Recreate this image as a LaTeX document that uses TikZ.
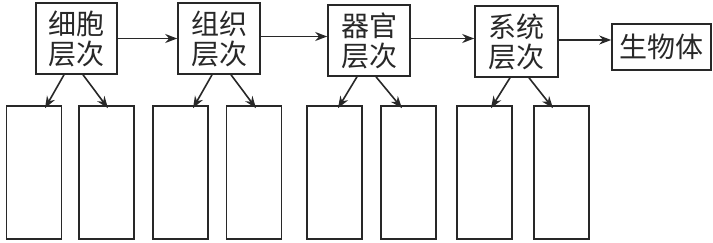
\documentclass[tikz,border=0pt]{standalone}
\usepackage{fontspec}
\newfontfamily\cjk{Noto Sans CJK SC}
\usetikzlibrary{arrows.meta}
\definecolor{ink}{RGB}{40,40,40}
\begin{document}
\begin{tikzpicture}[x=1pt,y=-1pt,
  lvl/.style={draw=ink,line width=1.6pt,inner sep=0pt,minimum width=82pt,minimum height=71pt,
    align=center,font=\cjk\fontsize{28}{30}\selectfont,text=ink},
  blank/.style={draw=ink,line width=1.6pt,inner sep=0pt,minimum width=55pt,minimum height=133pt},
  arr/.style={draw=ink,line width=1.6pt,-{Stealth[length=12pt,width=9pt]}}]
\useasboundingbox (0,0) rectangle (713,243);
\node[lvl,minimum width=81pt] (b1) at (76.5,38.5) {细胞\\层次};
\node[lvl] (b2) at (219,38.5) {组织\\层次};
\node[lvl] (b3) at (369,40.5) {器官\\层次};
\node[lvl,minimum width=83pt] (b4) at (516.5,41.5) {系统\\层次};
\node[lvl,minimum width=99pt,minimum height=46pt] (b5) at (661.5,47) {生物体};
\node[blank] (r1) at (34,172.5) {};
\node[blank] (r2) at (106.5,172.5) {};
\node[blank] (r3) at (180.5,172.5) {};
\node[blank] (r4) at (254,172.5) {};
\node[blank] (r5) at (334.5,172.5) {};
\node[blank] (r6) at (408.5,172.5) {};
\node[blank] (r7) at (484.5,172.5) {};
\node[blank] (r8) at (561.5,172.5) {};
\draw[arr] (b1.east) -- (b1.east -| b2.west);
\draw[arr] ([yshift=2pt]b2.east) -- ([yshift=2pt]b2.east -| b3.west);
\draw[arr] ([yshift=2pt]b3.east) -- ([yshift=2pt]b3.east -| b4.west);
\draw[arr] ([yshift=1.5pt]b4.east) -- ([yshift=1.5pt]b4.east -| b5.west);
\draw[arr] ([xshift=-12.5pt]b1.south) -- ([xshift=11pt,yshift=-3pt]r1.north);
\draw[arr] ([xshift=6.5pt]b1.south) -- ([xshift=1.5pt,yshift=-3pt]r2.north);
\draw[arr] ([xshift=-7pt]b2.south) -- ([xshift=12.5pt,yshift=-3pt]r3.north);
\draw[arr] ([xshift=12pt]b2.south) -- ([xshift=2pt,yshift=-3pt]r4.north);
\draw[arr] ([xshift=-12pt]b3.south) -- ([xshift=3.5pt,yshift=-3pt]r5.north);
\draw[arr] ([xshift=7pt]b3.south) -- ([xshift=-6.5pt,yshift=-3pt]r6.north);
\draw[arr] ([xshift=-6.5pt]b4.south) -- ([xshift=6.5pt,yshift=-3pt]r7.north);
\draw[arr] ([xshift=12.5pt]b4.south) -- ([xshift=-8.5pt,yshift=-3pt]r8.north);
\end{tikzpicture}
\end{document}
